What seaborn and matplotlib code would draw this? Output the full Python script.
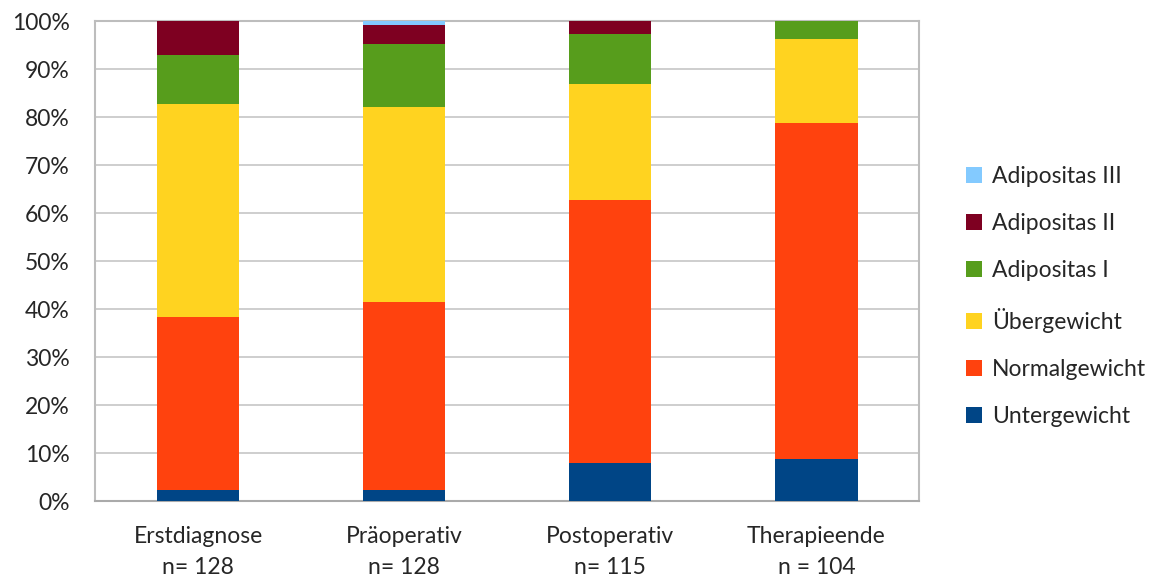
import matplotlib
matplotlib.use('Agg')
import matplotlib.pyplot as plt
import numpy as np
import pandas as pd
import seaborn as sns
from matplotlib.patches import Patch
from matplotlib.ticker import PercentFormatter, MultipleLocator

sns.set_style('white')
plt.rcParams['font.family'] = ['Lato', 'DejaVu Sans']
plt.rcParams['font.size'] = 16.5

# data (counts per group)
groups = ['Erstdiagnose\nn= 128', 'Präoperativ\nn= 128', 'Postoperativ\nn= 115', 'Therapieende\nn = 104']
totals = [128, 128, 115, 104]
categories = ['Untergewicht', 'Normalgewicht', 'Übergewicht', 'Adipositas I', 'Adipositas II', 'Adipositas III']
untergewicht = [3, 3, 9, 9]
normalgewicht = [46, 50, 63, 73]
uebergewicht = [57, 52, 28, 18]
adipositas1 = [13, 17, 12, 4]
adipositas2 = [9, 5, 3, 0]
adipositas3 = [0, 1, 0, 0]
colors = ['#004586', '#ff420e', '#ffd320', '#579d1c', '#7e0021', '#83caff']

counts = [untergewicht, normalgewicht, uebergewicht, adipositas1, adipositas2, adipositas3]
rows = []
for cat, vals in zip(categories, counts):
    for g, v, n in zip(groups, vals, totals):
        rows.append({'group': g, 'cat': cat, 'pct': v / n * 100})
df = pd.DataFrame(rows)

fig = plt.figure(figsize=(11.58, 5.79), dpi=100)
ax = fig.add_axes([0.082, 0.1347, 0.712, 0.829])

bottom = np.zeros(len(groups))
for cat, col in zip(categories, colors):
    sub = df[df['cat'] == cat]
    sns.barplot(data=sub, x='group', y='pct', order=groups, color=col, width=0.40,
                bottom=bottom, ax=ax, edgecolor='none', linewidth=0, saturation=1, zorder=3)
    bottom = bottom + sub['pct'].values

ax.set_ylim(0, 100)
ax.set_xlim(-0.5, 3.5)
ax.yaxis.set_major_locator(MultipleLocator(10))
ax.yaxis.set_major_formatter(PercentFormatter(decimals=0))
ax.grid(axis='y', color='#c6c6c6', linewidth=1.2, zorder=0)
ax.set_axisbelow(True)
for s in ax.spines.values():
    s.set_color('#bdbdbd')
    s.set_linewidth(1.5)
ax.spines['bottom'].set_color('#aaaaaa')
ax.tick_params(axis='both', length=0, labelsize=16.5)
ax.tick_params(axis='x', pad=18)
ax.tick_params(axis='y', pad=18)
for t in ax.get_xticklabels():
    t.set_linespacing(1.6)
ax.set_xlabel('')
ax.set_ylabel('')

handles = [Patch(facecolor=c, edgecolor='none', label=l) for l, c in zip(categories, colors)][::-1]
fig.legend(handles=handles, loc='center left', bbox_to_anchor=(0.816, 0.488), frameon=False,
           fontsize=16.5, handlelength=0.7, handleheight=0.7, handletextpad=0.45, labelspacing=1.15)

fig.savefig('out.png', dpi=100)
